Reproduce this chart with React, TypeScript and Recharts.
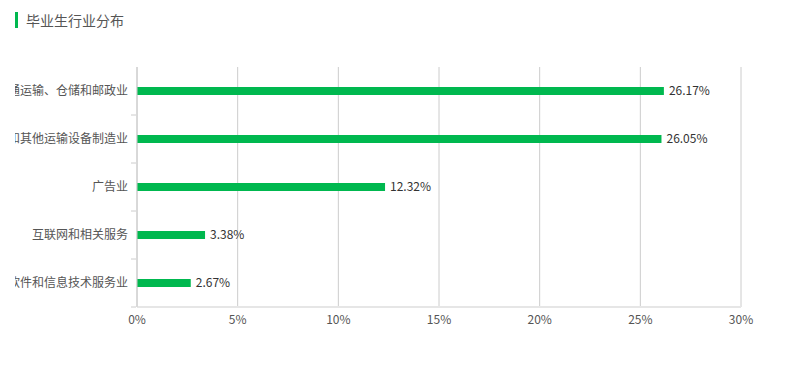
import { BarChart, Bar, XAxis, YAxis, CartesianGrid, LabelList } from 'recharts';

const industries = [
  '交通运输、仓储和邮政业',
  '铁路、船舶、航空航天和其他运输设备制造业',
  '广告业',
  '互联网和相关服务',
  '软件和信息技术服务业',
];
const shares = [26.17, 26.05, 12.32, 3.38, 2.67];
const xTicks = [0, 5, 10, 15, 20, 25, 30];

const data = industries.map((name, i) => ({ name, value: shares[i] }));

const FONT = '"Noto Sans CJK SC", "Noto Sans", sans-serif';
const GREEN = '#00b84f';
const BAND = 48;

// 类目轴刻度：文字在类目中心，刻度线画在类目之间
const CategoryTick = ({ x, y, payload }: any) => (
  <g>
    <line x1={x + 3} x2={x + 8} y1={y + BAND / 2} y2={y + BAND / 2} stroke="#ccc" />
    <text x={x} y={y} dy={4} textAnchor="end" fill="#555" fontSize={12} fontFamily={FONT}>
      {payload.value}
    </text>
  </g>
);

export default function App() {
  return (
    <div style={{ position: 'absolute', left: 0, top: 0, width: 796, height: 368, background: '#fff', fontFamily: FONT }}>
      <div style={{ position: 'absolute', left: 15, top: 12, width: 3, height: 16, background: GREEN }} />
      <div style={{ position: 'absolute', left: 26, top: 10, fontSize: 14, color: '#555', lineHeight: '20px' }}>
        毕业生行业分布
      </div>
      <div style={{ position: 'absolute', left: 15, top: 0, width: 781, height: 368, overflow: 'hidden' }}>
        <BarChart
          width={781}
          height={368}
          data={data}
          layout="vertical"
          margin={{ top: 67, right: 55, bottom: 31, left: 0 }}
        >
          <CartesianGrid horizontal={false} stroke="#ccc" />
          <XAxis
            type="number"
            domain={[0, 30]}
            ticks={xTicks}
            tickFormatter={(v: number) => `${v}%`}
            axisLine={{ stroke: '#e6e6e6', strokeWidth: 2 }}
            tickLine={false}
            tickSize={0}
            tickMargin={8}
            height={30}
            tick={{ fill: '#555', fontSize: 12, fontFamily: FONT }}
            interval={0}
          />
          <YAxis
            type="category"
            dataKey="name"
            width={122}
            axisLine={{ stroke: '#ccc' }}
            tickLine={false}
            tickSize={0}
            tickMargin={9}
            tick={<CategoryTick />}
            interval={0}
          />
          <Bar dataKey="value" fill={GREEN} barSize={8} isAnimationActive={false}>
            <LabelList
              dataKey="value"
              position="right"
              offset={5}
              formatter={(v: any) => `${v}%`}
              fill="#333"
              fontSize={12}
              fontFamily={FONT}
            />
          </Bar>
        </BarChart>
      </div>
    </div>
  );
}
